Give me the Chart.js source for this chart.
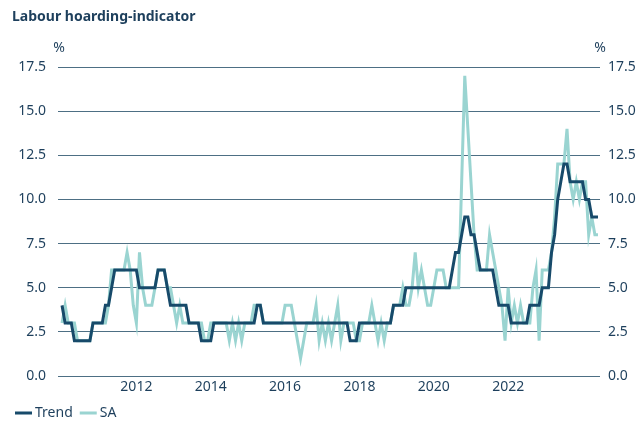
<!DOCTYPE html>
<html>
<head>
<meta charset="utf-8">
<script src="https://cdn.jsdelivr.net/npm/chart.js@4/dist/chart.umd.min.js"></script>
<style>
  html, body { margin: 0; padding: 0; background: #fff; }
  #wrap { width: 644px; height: 423px; position: relative; }
</style>
</head>
<body>
<div id="wrap"><canvas id="c" width="644" height="423"></canvas></div>
<script>
/* ---------- Labour hoarding-indicator (monthly, %) ---------- */

const START_YEAR = 2010;
const yearTicks = ["2012", "2014", "2016", "2018", "2020", "2022"];
const yTicks = [0, 2.5, 5, 7.5, 10, 12.5, 15, 17.5];

const trend = [
  4, 3, 3, 3, 2, 2, 2, 2, 2, 2, 3, 3, 3, 3, 4, 4, 5, 6, 6, 6,
  6, 6, 6, 6, 6, 5, 5, 5, 5, 5, 5, 6, 6, 6, 5, 4, 4, 4, 4, 4,
  4, 3, 3, 3, 3, 2, 2, 2, 2, 3, 3, 3, 3, 3, 3, 3, 3, 3, 3, 3,
  3, 3, 3, 4, 4, 3, 3, 3, 3, 3, 3, 3, 3, 3, 3, 3, 3, 3, 3, 3,
  3, 3, 3, 3, 3, 3, 3, 3, 3, 3, 3, 3, 3, 2, 2, 2, 3, 3, 3, 3,
  3, 3, 3, 3, 3, 3, 3, 4, 4, 4, 4, 5, 5, 5, 5, 5, 5, 5, 5, 5,
  5, 5, 5, 5, 5, 5, 6, 7, 7, 8, 9, 9, 8, 8, 7, 6, 6, 6, 6, 6,
  5, 4, 4, 4, 4, 3, 3, 3, 3, 3, 3, 4, 4, 4, 4, 5, 5, 5, 7, 8,
  10, 11, 12, 12, 11, 11, 11, 11, 11, 10, 10, 9, 9, 9,
];

const sa = [
  3, 4, 3, 3, 3, 2, 2, 2, 2, 2, 3, 3, 3, 3, 3, 4, 6, 6, 6, 6,
  6, 7, 6, 4, 3, 7, 5, 4, 4, 4, 5, 6, 6, 6, 5, 5, 4, 3, 4, 3,
  3, 3, 3, 3, 3, 3, 2, 2, 3, 3, 3, 3, 3, 3, 2, 3, 2, 3, 2, 3,
  3, 3, 4, 4, 4, 3, 3, 3, 3, 3, 3, 3, 4, 4, 4, 3, 2, 1, 2, 3,
  3, 3, 4, 2, 3, 2, 3, 2, 3, 4, 2, 3, 3, 3, 3, 2, 2, 3, 3, 3,
  4, 3, 2, 3, 2, 3, 3, 4, 4, 4, 5, 4, 4, 5, 7, 5, 6, 5, 4, 4,
  5, 6, 6, 6, 5, 5, 5, 5, 5, 11, 17, 14, 11, 8, 6, 6, 6, 6, 8, 7,
  6, 5, 4, 2, 5, 3, 4, 3, 4, 3, 3, 3, 5, 6, 2, 6, 6, 6, 7, 9,
  12, 12, 12, 14, 11, 10, 11, 10, 11, 11, 8, 9, 8, 8,
];

const months = trend.map((_, i) =>
  `${START_YEAR + Math.floor(i / 12)}-${String((i % 12) + 1).padStart(2, "0")}`
);

const NAVY = "#174a6a";
const TEAL = "#9ad4d1";
const TXT = "#1d3f5c";
const GRID = "#4d6f84";
const FONT = "'Noto Sans', 'DejaVu Sans', sans-serif";

const pts = (arr) => arr.map((v, i) => ({ x: i, y: v }));

/* 제목, 축 위 %, 하단 범례 */
const decor = {
  id: "decor",
  afterDraw(chart) {
    const { ctx, chartArea } = chart;
    ctx.save();
    ctx.fillStyle = TXT;
    ctx.textBaseline = "middle";
    ctx.font = `bold 14px ${FONT}`;
    ctx.textAlign = "left";
    ctx.fillText("Labour hoarding-indicator", 12, 17);

    ctx.font = `14px ${FONT}`;
    ctx.textAlign = "center";
    ctx.fillText("%", chartArea.left + 1, 48);
    ctx.fillText("%", chartArea.right, 48);

    // 범례: 데이터셋 색과 라벨을 그대로 사용
    let x = 15;
    const y = 413;
    ctx.textAlign = "left";
    chart.data.datasets.forEach((ds) => {
      ctx.fillStyle = ds.borderColor;
      ctx.fillRect(x, y - 1.5, 17, 3);
      ctx.fillStyle = TXT;
      ctx.fillText(ds.label, x + 20, y);
      x += 20 + ctx.measureText(ds.label).width + 7;
    });
    ctx.restore();
  },
};

const yAxis = (pos) => ({
  type: "linear",
  position: pos,
  min: 0,
  max: 17.5,
  afterBuildTicks: (s) => { s.ticks = yTicks.map((v) => ({ value: v })); },
  afterFit: (s) => { s.width = pos === "left" ? 47 : 44; },
  border: { display: false },
  grid: pos === "left"
    ? { color: GRID, lineWidth: 1, drawTicks: false }
    : { display: false, drawTicks: false },
  ticks: {
    color: TXT,
    font: { size: 14, family: FONT },
    padding: pos === "left" ? 12 : 8,
    callback: (v) => v.toFixed(1),
  },
});

new Chart(document.getElementById("c"), {
  type: "line",
  data: {
    datasets: [
      {
        label: "Trend",
        data: pts(trend),
        borderColor: NAVY,
        backgroundColor: NAVY,
        borderWidth: 3,
        pointRadius: 0,
        tension: 0,
      },
      {
        label: "SA",
        data: pts(sa),
        borderColor: TEAL,
        backgroundColor: TEAL,
        borderWidth: 3,
        pointRadius: 0,
        tension: 0,
      },
    ],
  },
  options: {
    responsive: false,
    animation: false,
    layout: { padding: { left: 11, right: 0, top: 67, bottom: 22 } },
    scales: {
      x: {
        type: "linear",
        min: -1.3,
        max: 173.65,
        afterBuildTicks: (s) => {
          s.ticks = yearTicks.map((y) => ({ value: months.indexOf(`${y}-01`) }));
        },
        afterFit: (s) => { s.height = 25; },
        border: { display: false },
        grid: { display: false, drawTicks: false },
        ticks: {
          color: TXT,
          font: { size: 14, family: FONT },
          padding: 3,
          maxRotation: 0,
          callback: (v) => months[v] ? months[v].slice(0, 4) : "",
        },
      },
      y: yAxis("left"),
      y2: yAxis("right"),
    },
    plugins: {
      legend: { display: false },
      tooltip: { enabled: false },
    },
  },
  plugins: [decor],
});
</script>
</body>
</html>
